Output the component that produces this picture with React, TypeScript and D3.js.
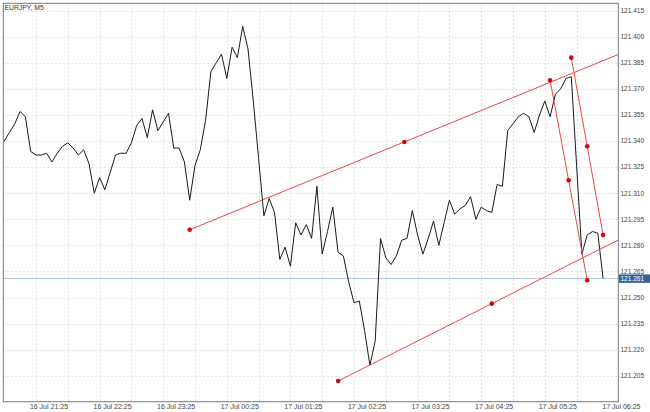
import React from "react";
import * as d3 from "d3";

// EURJPY M5 closes, one per 5 minute bar starting 16 Jul 21:00
const closes = [
  121.340, 121.345, 121.350, 121.357, 121.354, 121.334, 121.332, 121.332, 121.333, 121.328,
  121.333, 121.337, 121.339, 121.336, 121.332, 121.335, 121.327, 121.310, 121.319, 121.312,
  121.322, 121.332, 121.333, 121.333, 121.339, 121.349, 121.353, 121.342, 121.358, 121.346,
  121.351, 121.356, 121.336, 121.336, 121.328, 121.306, 121.326, 121.335, 121.352, 121.380,
  121.385, 121.390, 121.376, 121.394, 121.388, 121.406, 121.393, 121.363, 121.330, 121.297,
  121.307, 121.299, 121.272, 121.279, 121.268, 121.293, 121.286, 121.292, 121.284, 121.314,
  121.275, 121.288, 121.302, 121.276, 121.274, 121.259, 121.247, 121.248, 121.231, 121.211,
  121.225, 121.284, 121.273, 121.269, 121.274, 121.283, 121.284, 121.300, 121.286, 121.275,
  121.284, 121.294, 121.280, 121.293, 121.306, 121.298, 121.301, 121.303, 121.308, 121.295,
  121.302, 121.300, 121.299, 121.315, 121.314, 121.346, 121.350, 121.354, 121.356, 121.354,
  121.345, 121.355, 121.363, 121.354, 121.367, 121.370, 121.376, 121.377, 121.326, 121.275,
  121.286, 121.288, 121.287, 121.261,
];

const startTime = Date.UTC(2024, 6, 16, 21, 0);
const barMs = 5 * 60 * 1000;
const barTime = (i: number) => new Date(startTime + i * barMs);

const priceTicks = [
  121.415, 121.4, 121.385, 121.37, 121.355, 121.34, 121.325, 121.31,
  121.295, 121.28, 121.265, 121.25, 121.235, 121.22, 121.205,
];

const timeLabels = [
  "16 Jul 21:25", "16 Jul 22:25", "16 Jul 23:25", "17 Jul 00:25", "17 Jul 01:25",
  "17 Jul 02:25", "17 Jul 03:25", "17 Jul 04:25", "17 Jul 05:25", "17 Jul 06:25",
];
const labelBars = [5, 17, 29, 41, 53, 65, 77, 89, 101, 113];

// trend lines: [bar, price] -> [bar, price]
const trendLines = [
  { from: [35, 121.289], to: [116, 121.39] },
  { from: [63, 121.202], to: [121, 121.291] },
  { from: [103, 121.375], to: [110, 121.26] },
  { from: [107, 121.388], to: [113, 121.286] },
];

const lastPrice = 121.261;

const W = 650;
const H = 412;
const plot = { left: 3.3, right: 618.3, top: 3.3, bottom: 401.7 };
const font = "'Liberation Sans', Arial, sans-serif";

export default function App() {
  const x = d3
    .scaleUtc()
    .domain([barTime(0), barTime(closes.length - 1)])
    .range([4.2, 603.1]);
  const y = d3.scaleLinear().domain([121.205, 121.415]).range([375.8, 10.7]);

  const line = d3
    .line<number>()
    .x((_, i) => x(barTime(i)))
    .y((d) => y(d));

  const gridTimes = d3.utcMinute
    .every(30)!
    .range(new Date(startTime + 25 * 60000), new Date(barTime(closes.length).getTime()));

  const yLast = y(lastPrice);

  return (
    <svg
      width={W}
      height={H}
      style={{ position: "absolute", left: 0, top: 0, background: "#fff" }}
    >
      <defs>
        <clipPath id="plotClip">
          <rect
            x={plot.left}
            y={plot.top}
            width={plot.right - plot.left}
            height={plot.bottom - plot.top}
          />
        </clipPath>
      </defs>

      {/* grid */}
      <g stroke="#e0e0e0" strokeWidth={1} strokeDasharray="2,2">
        {priceTicks.map((p) => (
          <line key={p} x1={plot.left} x2={plot.right + 2} y1={Math.round(y(p)) + 0.5} y2={Math.round(y(p)) + 0.5} />
        ))}
        {gridTimes.map((t) => (
          <line
            key={t.getTime()}
            x1={Math.round(x(t)) + 0.5}
            x2={Math.round(x(t)) + 0.5}
            y1={plot.top}
            y2={plot.bottom}
          />
        ))}
      </g>

      {/* current price line */}
      <line
        x1={plot.left}
        x2={plot.right}
        y1={yLast}
        y2={yLast}
        stroke="#b4c6d8"
        strokeWidth={1}
      />

      <g clipPath="url(#plotClip)">
        <path d={line(closes) ?? ""} fill="none" stroke="#1a1a1a" strokeWidth={1} />
        {trendLines.map((tl, k) => {
          const x1 = x(barTime(tl.from[0]));
          const y1 = y(tl.from[1]);
          const x2 = x(barTime(tl.to[0]));
          const y2 = y(tl.to[1]);
          const pts = [
            [x1, y1],
            [(x1 + x2) / 2, (y1 + y2) / 2],
            [x2, y2],
          ].filter((p) => p[0] < plot.right - 2);
          return (
            <g key={k}>
              <line x1={x1} y1={y1} x2={x2} y2={y2} stroke="#e8474a" strokeWidth={1} />
              {pts.map((p, j) => (
                <circle key={j} cx={p[0]} cy={p[1]} r={2.3} fill="#cc0a0a" />
              ))}
            </g>
          );
        })}
      </g>

      {/* frame */}
      <rect
        x={plot.left}
        y={plot.top}
        width={plot.right - plot.left}
        height={plot.bottom - plot.top}
        fill="none"
        stroke="#777"
        strokeWidth={1}
      />

      {/* title */}
      <text x={4.5} y={9.8} fontFamily={font} fontSize={6.8} fill="#333">
        EURJPY, M5
      </text>

      {/* price axis */}
      <g fontFamily={font} fontSize={6.5} fill="#444">
        {priceTicks.map((p) => (
          <text key={p} x={620.5} y={y(p) + 2.3}>
            {p.toFixed(3)}
          </text>
        ))}
      </g>
      <rect x={618.8} y={yLast - 4} width={31.2} height={8.4} fill="#34649f" />
      <text x={620.5} y={yLast + 2.4} fontFamily={font} fontSize={6.5} fill="#fff">
        {lastPrice.toFixed(3)}
      </text>

      {/* time axis */}
      <g fontFamily={font} fontSize={7} fill="#444">
        {timeLabels.map((lab, i) => (
          <text key={lab} x={x(barTime(labelBars[i])) - 0.8} y={409.3}>
            {lab}
          </text>
        ))}
      </g>
    </svg>
  );
}
